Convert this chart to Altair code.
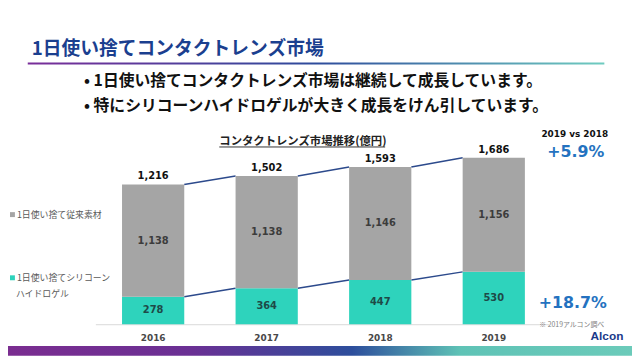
import altair as alt
import pandas as pd

years = ["2016", "2017", "2018", "2019"]
silicone = [278, 364, 447, 530]
conventional = [1138, 1138, 1146, 1156]
total_labels = ["1,216", "1,502", "1,593", "1,686"]

title = "1日使い捨てコンタクトレンズ市場"
bullets = ["• 1日使い捨てコンタクトレンズ市場は継続して成長しています。",
           "• 特にシリコーンハイドロゲルが大きく成長をけん引しています。"]
subtitle = "コンタクトレンズ市場推移(億円)"
legend_conv = "1日使い捨て従来素材"
legend_sil = ["1日使い捨てシリコーン", "ハイドロゲル"]
compare_title = "2019  vs  2018"
growth_total = "+5.9%"
growth_sil = "+18.7%"
source_note = "※ 2019アルコン調べ"
brand = "Alcon"

GRAY = "#A5A5A5"
TEAL = "#2ED3BC"
NAVY = "#2C4A8C"
BLUE = "#2472C0"
JP = "Noto Sans CJK JP"
NUM = "DejaVu Sans"

sil = pd.DataFrame({"year": years, "y0": [0] * 4, "y1": silicone, "val": silicone})
sil["mid"] = (sil["y0"] + sil["y1"]) / 2
conv = pd.DataFrame({"year": years, "y0": silicone,
                     "y1": [s + c for s, c in zip(silicone, conventional)], "val": conventional})
conv["mid"] = (conv["y0"] + conv["y1"]) / 2

tot = pd.DataFrame({"year": years,
                    "top": [s + c for s, c in zip(silicone, conventional)],
                    "label": total_labels})

links = []
for i in range(len(years) - 1):
    links.append({"year": years[i], "year2": years[i + 1],
                  "a": silicone[i] + conventional[i],
                  "b": silicone[i + 1] + conventional[i + 1]})
    links.append({"year": years[i], "year2": years[i + 1],
                  "a": silicone[i], "b": silicone[i + 1]})
links = pd.DataFrame(links)

xs = alt.Scale(type="band", domain=years, range=[89.5, 549.5],
               paddingInner=0.452, paddingOuter=0.226)
ys = alt.Scale(domain=[0, 3180], range=[318, 0])

one = pd.DataFrame({"k": [1]})


def bar_layer(df, color):
    return alt.Chart(df).mark_bar(color=color).encode(
        x=alt.X("year:N", scale=xs, axis=None),
        y=alt.Y("y0:Q", scale=ys, axis=None),
        y2="y1:Q",
    )


def seg_label(df, color):
    return alt.Chart(df).mark_text(font=NUM, fontWeight="bold", fontSize=10,
                                   baseline="middle", color=color).encode(
        x=alt.X("year:N", scale=xs, axis=None),
        y=alt.Y("mid:Q", scale=ys, axis=None),
        text=alt.Text("val:Q", format=","),
    )


tot_text = alt.Chart(tot).mark_text(font=NUM, fontWeight="bold", fontSize=10, baseline="bottom",
                                    dy=-3, color="#111111").encode(
    x=alt.X("year:N", scale=xs, axis=None),
    y=alt.Y("top:Q", scale=ys, axis=None),
    text="label:N",
)

year_text = alt.Chart(tot).mark_text(font=NUM, fontWeight="bold", fontSize=9, baseline="middle",
                                     color="#484848").encode(
    x=alt.X("year:N", scale=xs, axis=None),
    y=alt.value(332),
    text="year:N",
)

link_rules = alt.Chart(links).mark_rule(color=NAVY, strokeWidth=1.5, xOffset=31.5, x2Offset=-31.5).encode(
    x=alt.X("year:N", scale=xs, axis=None),
    x2="year2:N",
    y=alt.Y("a:Q", scale=ys, axis=None),
    y2="b:Q",
)

baseline = alt.Chart(one).mark_rule(color="#D9D9D9", strokeWidth=1).encode(
    x=alt.value(89), x2=alt.value(548), y=alt.value(318.5))


def txt(s, x, y, size, color, weight="bold", font=JP, align="left"):
    return alt.Chart(one).mark_text(text=s, font=font, fontSize=size, fontWeight=weight,
                                    color=color, align=align, baseline="middle").encode(
        x=alt.value(x), y=alt.value(y))


def box(x, x2, y, y2, fill):
    return alt.Chart(one).mark_rect(fill=fill).encode(
        x=alt.value(x), x2=alt.value(x2), y=alt.value(y), y2=alt.value(y2))


grad_line = alt.LinearGradient(gradient="linear", x1=0, x2=1, y1=0, y2=0, stops=[
    alt.GradientStop(color="#7A2E9A", offset=0),
    alt.GradientStop(color="#2E4C9C", offset=0.5),
    alt.GradientStop(color="#6FCCC0", offset=1)])
grad_bar = alt.LinearGradient(gradient="linear", x1=0, x2=1, y1=0, y2=0, stops=[
    alt.GradientStop(color="#7B2D90", offset=0),
    alt.GradientStop(color="#6A3094", offset=0.3),
    alt.GradientStop(color="#2D4E9C", offset=0.55),
    alt.GradientStop(color="#5FC3B6", offset=0.72),
    alt.GradientStop(color="#6CCBBA", offset=1)])

sub_line = alt.Chart(one).mark_rule(color="#333333", strokeWidth=1).encode(
    x=alt.value(214), x2=alt.value(382), y=alt.value(138.5))

layers = [
    box(20, 604, 53, 55, grad_line),
    box(-8, 640, 340, 350, grad_bar),
    txt(title, 24, 39, 19, "#1B3F8F"),
    txt(bullets[0], 77, 72, 16, "#111111"),
    txt(bullets[1], 77, 97, 16, "#111111"),
    txt(subtitle, 214, 133, 11.5, "#222222"),
    sub_line,
    baseline, link_rules,
    bar_layer(sil, TEAL), bar_layer(conv, GRAY),
    seg_label(sil, "#1E4A48"), seg_label(conv, "#3C3C3C"),
    tot_text, year_text,
    box(2, 7, 204.5, 209.5, GRAY),
    box(2, 7, 268.5, 273.5, TEAL),
    txt(legend_conv, 9, 207, 9, "#595959", weight="normal"),
    txt(legend_sil[0], 9, 271, 9, "#595959", weight="normal"),
    txt(legend_sil[1], 8, 287, 9, "#595959", weight="normal"),
    txt(compare_title, 574, 125, 9, "#111111", font=NUM, align="center"),
    txt(growth_total, 575, 144, 16, BLUE, font=NUM, align="center"),
    txt(growth_sil, 572, 297, 16, BLUE, font=NUM, align="center"),
    txt(source_note, 538, 319, 7, "#7F7F7F", weight="normal"),
    txt(brand, 590, 330, 12, "#1B3A8A", font="Liberation Sans"),
]

chart = alt.layer(*layers).properties(
    width=632, height=352,
    autosize=alt.AutoSizeParams(type="none"),
    padding=0,
).configure_view(stroke=None)

chart.save("out.html", embed_options={"renderer": "svg", "actions": False})
